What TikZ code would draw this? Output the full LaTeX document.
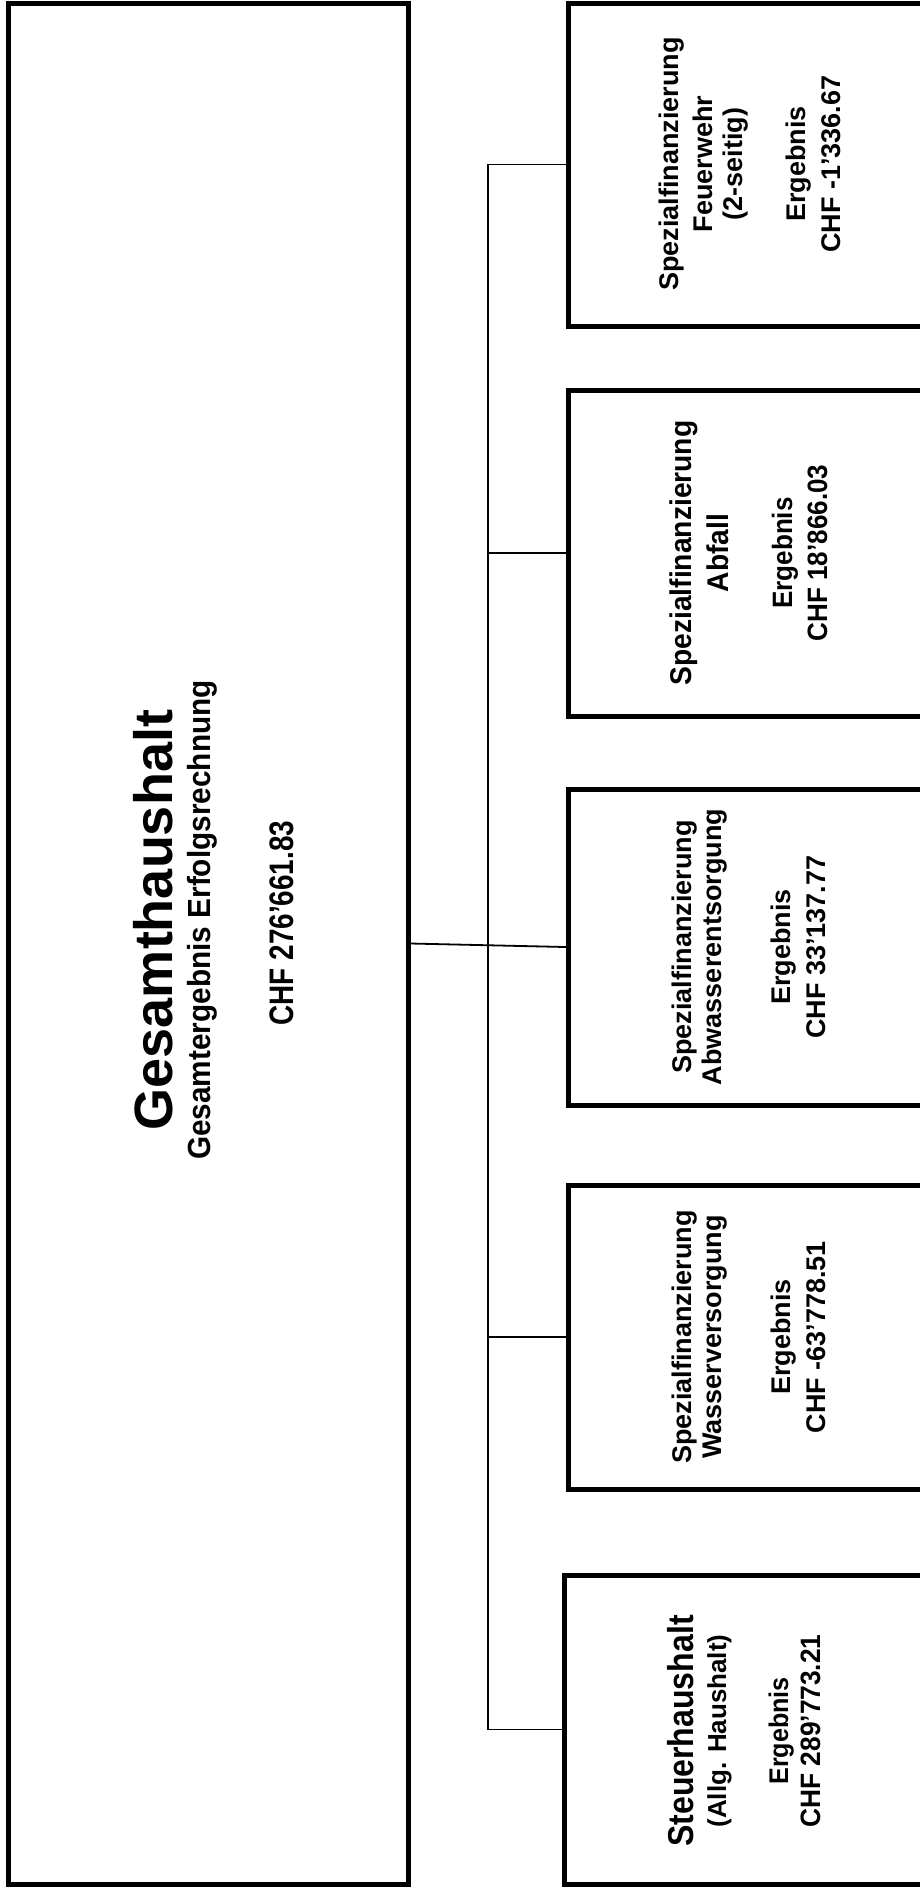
\documentclass[tikz,border=0pt]{standalone}
\usepackage{graphicx}
\usepackage{fontspec}
\setmainfont{Liberation Sans}
\newcommand{\hsq}[2]{\scalebox{#1}[1]{#2}}
\begin{document}
\begin{tikzpicture}[x=1pt,y=-1pt,
  frame/.style={draw=black, line width=5pt, rectangle, inner sep=0pt, fill=white},
  link/.style={draw=black, line width=1.8pt, line cap=rect},
  txtline/.style={rotate=90, anchor=base, inner sep=0pt, font=\bfseries\fontsize{#1}{#1}\selectfont},
]
\useasboundingbox (0,0) rectangle (920,1888);
\fill[white] (0,0) rectangle (920,1888);
\clip (0,0) rectangle (920,1888);

% boxes
\node[frame, minimum width=400pt, minimum height=1881pt] (big) at (208,943.5) {};
\node[frame, minimum width=360pt, minimum height=323pt] (fw)  at (748,164.5) {};
\node[frame, minimum width=360pt, minimum height=326pt] (abf) at (748,553) {};
\node[frame, minimum width=360pt, minimum height=316pt] (abw) at (748,947) {};
\node[frame, minimum width=360pt, minimum height=304pt] (was) at (748,1337) {};
\node[frame, minimum width=364pt, minimum height=309pt] (st)  at (746,1729.5) {};

% connectors
\coordinate (bus) at (488,944);
\draw[link] (fw.west -| bus) -- (st.west -| bus);
\draw[link] (fw.west -| bus) -- (fw.west);
\draw[link] (abf.west -| bus) -- (abf.west);
\draw[link] (was.west -| bus) -- (was.west);
\draw[link] (st.west -| bus) -- (st.west);
\draw[link] (big.east) -- (abw.west);

% big box text
\node[txtline=54] (g1) at (172,920) {Gesamthaushalt};
\node[txtline=32] (g2) at (210,920) {\hsq{0.93}{Gesamtergebnis Erfolgsrechnung}};
\node[txtline=34] (g3) at (293,923) {\hsq{0.82}{CHF 276’661.83}};

% Feuerwehr
\node[txtline=27] (f1) at (678,164) {Spezialfinanzierung};
\node[txtline=27] (f2) at (712,164) {Feuerwehr};
\node[txtline=27] (f3) at (742,164) {(2-seitig)};
\node[txtline=27] (f4) at (805,164) {Ergebnis};
\node[txtline=27] (f5) at (840,164) {CHF -1’336.67};

% Abfall
\node[txtline=30] (a1) at (691,553) {\hsq{0.94}{Spezialfinanzierung}};
\node[txtline=30] (a2) at (728,553) {\hsq{0.94}{Abfall}};
\node[txtline=28] (a3) at (792,553) {\hsq{0.93}{Ergebnis}};
\node[txtline=28] (a4) at (827,553) {\hsq{0.93}{CHF 18’866.03}};

% Abwasser
\node[txtline=27] (w1) at (691,947) {Spezialfinanzierung};
\node[txtline=27] (w2) at (721,947) {Abwasserentsorgung};
\node[txtline=27] (w3) at (790,947) {Ergebnis};
\node[txtline=27] (w4) at (825,947) {CHF 33’137.77};

% Wasser
\node[txtline=27] (v1) at (691,1337) {Spezialfinanzierung};
\node[txtline=27] (v2) at (721,1337) {Wasserversorgung};
\node[txtline=27] (v3) at (790,1337) {Ergebnis};
\node[txtline=27] (v4) at (825,1337) {CHF -63’778.51};

% Steuer
\node[txtline=36] (s1) at (693,1731) {\hsq{0.89}{Steuerhaushalt}};
\node[txtline=26] (s2) at (726,1731) {(Allg. Haushalt)};
\node[txtline=27] (s3) at (788,1731) {\hsq{0.93}{Ergebnis}};
\node[txtline=28] (s4) at (820,1731) {\hsq{0.94}{CHF 289’773.21}};
\end{tikzpicture}
\end{document}
